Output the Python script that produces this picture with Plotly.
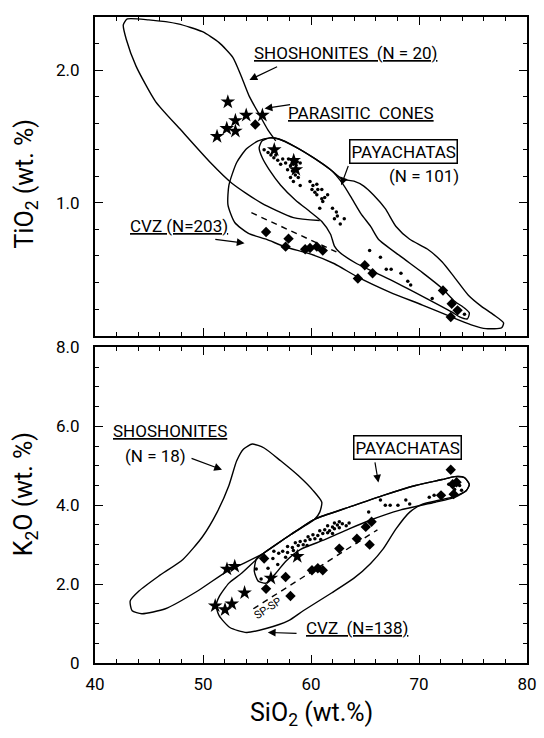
import plotly.graph_objects as go

# ================= TOP PANEL: TiO2 vs SiO2 =================
# parasitic cones (stars)
top_star_sio2 = [51.3, 52.2, 53.0, 52.3, 53.0, 54.0, 55.5, 56.6, 58.4, 58.6]
top_star_tio2 = [1.50, 1.56, 1.54, 1.76, 1.62, 1.66, 1.66, 1.40, 1.32, 1.25]

# diamonds
top_dia_sio2 = [54.84, 55.84, 57.92, 57.65, 59.46, 59.91, 60.54, 61.09, 64.98, 65.70, 64.34, 72.22, 73.03, 73.57, 72.94]
top_dia_tio2 = [1.59, 0.78, 0.73, 0.67, 0.65, 0.66, 0.67, 0.64, 0.53, 0.47, 0.43, 0.34, 0.24, 0.19, 0.14]

# Payachatas samples (small dots)
top_dot_sio2 = [55.66, 56.02, 56.29, 56.56, 56.92, 57.19, 56.74, 57.38, 57.65, 57.92, 58.28, 58.10, 58.37, 58.73,
                59.00, 57.83, 58.28, 58.55, 58.82, 58.10, 58.37, 59.00, 59.91, 60.18, 60.54, 60.09, 60.36, 60.63,
                61.00, 60.54, 61.00, 61.27, 61.54, 61.09, 60.81, 61.99, 62.35, 62.17, 62.44, 62.71, 63.08,
                65.43, 66.43, 66.97, 67.42, 68.33, 68.96, 69.23, 71.22, 74.21]
top_dot_tio2 = [1.40, 1.38, 1.36, 1.34, 1.32, 1.29, 1.36, 1.33, 1.30, 1.33, 1.32, 1.28, 1.29, 1.31,
                1.30, 1.25, 1.24, 1.21, 1.19, 1.19, 1.16, 1.13, 1.16, 1.13, 1.14, 1.10, 1.08, 1.10,
                1.10, 1.06, 1.03, 1.04, 1.06, 1.01, 0.96, 0.96, 0.93, 0.88, 0.90, 0.84, 0.88,
                0.64, 0.59, 0.50, 0.50, 0.47, 0.41, 0.38, 0.28, 0.16]

# field outlines
top_shosh_sio2 = [60.81, 58.37, 55.38, 52.67, 50.68, 47.96, 45.61, 43.80, 42.90, 42.62, 42.99, 44.98, 47.69,
                  49.95, 51.49, 52.76, 53.57, 54.30, 55.20, 56.02, 56.74]
top_shosh_tio2 = [0.867, 0.889, 1.000, 1.148, 1.304, 1.548, 1.763, 2.030, 2.230, 2.341, 2.385, 2.378, 2.348,
                  2.289, 2.207, 2.096, 1.948, 1.800, 1.667, 1.548, 1.467]

top_paya_sio2 = [55.20, 55.48, 56.20, 57.01, 58.55, 60.36, 61.90, 62.90, 63.80, 64.62, 65.52, 66.24, 68.24,
                 70.32, 72.13, 73.30, 74.21, 74.66, 74.48, 73.76, 73.03, 70.32, 67.33, 64.25, 62.62, 62.17,
                 61.81, 61.00, 59.91, 58.55, 57.19, 56.11, 55.48, 55.20]
top_paya_tio2 = [1.415, 1.467, 1.489, 1.481, 1.422, 1.333, 1.244, 1.148, 1.030, 0.919, 0.822, 0.726, 0.600,
                 0.474, 0.356, 0.259, 0.207, 0.170, 0.126, 0.141, 0.178, 0.296, 0.422, 0.541, 0.630, 0.674,
                 0.763, 0.859, 0.933, 1.022, 1.133, 1.252, 1.341, 1.415]

top_cvz_sio2 = [52.40, 53.12, 54.03, 55.11, 56.20, 57.01, 58.55, 60.36, 61.90, 62.90, 63.98, 64.89, 65.79,
                66.88, 67.87, 69.14, 70.77, 72.13, 73.30, 74.57, 75.75, 76.92, 77.83, 77.65, 76.20, 74.84,
                72.76, 70.32, 67.33, 64.25, 62.17, 59.91, 57.65, 55.84, 54.21, 52.94, 52.31, 52.40]
top_cvz_tio2 = [1.133, 1.304, 1.407, 1.467, 1.489, 1.481, 1.422, 1.333, 1.244, 1.178, 1.163, 1.126, 1.059,
                0.956, 0.822, 0.726, 0.652, 0.556, 0.437, 0.304, 0.222, 0.156, 0.096, 0.059, 0.052, 0.081,
                0.148, 0.230, 0.326, 0.444, 0.541, 0.615, 0.667, 0.726, 0.770, 0.852, 0.985, 1.133]

top_dash_sio2 = [54.48, 62.35]
top_dash_tio2 = [0.926, 0.630]

# ================= BOTTOM PANEL: K2O vs SiO2 =================
bot_star_sio2 = [51.13, 52.04, 52.67, 52.22, 52.94, 53.85, 56.29, 58.73]
bot_star_k2o = [1.45, 1.35, 1.50, 2.38, 2.45, 1.78, 2.15, 2.70]

bot_dia_sio2 = [55.66, 55.84, 57.65, 58.10, 60.09, 60.63, 61.09, 62.62, 64.25, 65.43, 65.07, 65.61,
                72.94, 72.04, 73.12, 73.48, 73.21]
bot_dia_k2o = [2.65, 1.88, 2.18, 1.70, 2.35, 2.40, 2.35, 2.90, 3.15, 3.00, 3.45, 3.58,
               4.90, 4.25, 4.53, 4.58, 4.28]

bot_dot_sio2 = [54.93, 55.38, 56.02, 56.92, 56.47, 57.01, 56.56, 57.38, 57.83, 57.83, 58.28, 58.82, 59.28,
                58.55, 59.00, 59.46, 59.91, 60.36, 59.73, 60.18, 60.63, 61.09, 61.54, 60.81, 61.27, 61.72,
                62.17, 62.62, 61.54, 61.99, 62.44, 62.90, 63.26, 62.17, 62.62, 63.53, 57.65, 58.37, 59.64,
                60.90, 61.99, 65.34, 66.43, 66.88, 67.33, 68.05, 68.78, 69.14, 70.95, 71.40, 72.76, 73.30,
                73.76, 73.94]
bot_dot_k2o = [2.38, 2.13, 2.40, 2.50, 2.65, 2.78, 2.83, 2.83, 2.80, 2.95, 2.93, 2.98, 3.00,
               3.05, 3.08, 3.10, 3.13, 3.15, 3.20, 3.25, 3.23, 3.28, 3.30, 3.35, 3.38, 3.35,
               3.40, 3.43, 3.48, 3.45, 3.50, 3.53, 3.48, 3.55, 3.58, 3.55, 2.68, 2.85, 2.98,
               3.13, 3.28, 3.83, 4.13, 4.00, 4.00, 4.00, 4.13, 4.03, 4.20, 4.25, 4.53, 4.40,
               4.50, 4.38]

bot_shosh_sio2 = [43.44, 43.26, 44.07, 45.88, 48.14, 49.95, 51.31, 52.40, 53.12, 53.76, 54.57, 55.66, 57.19,
                  58.82, 60.18, 61.00, 60.81, 60.36, 58.10, 55.57, 53.57, 52.22, 49.50, 46.52, 44.34, 43.44]
bot_shosh_k2o = [1.325, 1.575, 1.825, 2.200, 2.625, 3.200, 3.825, 4.500, 5.125, 5.425, 5.550, 5.450, 5.125,
                 4.750, 4.375, 4.075, 3.825, 3.650, 3.250, 2.775, 2.500, 2.325, 1.825, 1.375, 1.250, 1.325]

bot_cvz_sio2 = [55.57, 58.10, 60.36, 63.53, 66.70, 69.68, 72.13, 73.30, 74.21, 74.66, 74.39, 73.30, 71.86,
                70.32, 69.14, 67.87, 66.70, 65.52, 63.98, 61.90, 59.28, 57.92, 55.84, 54.03, 52.49, 51.49,
                51.22, 51.49, 52.40, 53.57, 55.57]
bot_cvz_k2o = [2.775, 3.250, 3.650, 3.950, 4.250, 4.500, 4.650, 4.725, 4.700, 4.525, 4.375, 4.225, 4.125,
               4.025, 3.825, 3.400, 2.900, 2.525, 2.150, 1.775, 1.325, 1.075, 0.875, 0.775, 0.900, 1.200,
               1.450, 1.675, 2.025, 2.275, 2.775]

bot_paya_sio2 = [55.57, 58.10, 60.36, 63.53, 66.70, 69.68, 72.13, 73.30, 74.21, 74.66, 74.39, 73.30, 71.49,
                 68.24, 65.52, 63.53, 61.27, 59.00, 57.65, 56.74, 55.84, 55.11, 54.75, 54.93, 55.57]
bot_paya_k2o = [2.775, 3.250, 3.650, 3.950, 4.250, 4.500, 4.650, 4.725, 4.700, 4.525, 4.375, 4.200, 4.075,
                3.875, 3.625, 3.400, 3.125, 2.875, 2.575, 2.275, 2.025, 2.075, 2.325, 2.625, 2.775]

bot_dash_sio2 = [54.66, 66.15]
bot_dash_k2o = [1.375, 3.375]

x_ticks = [40, 50, 60, 70, 80]
top_y_ticks = [1.0, 2.0]
top_y_labels = ["1.0", "2.0"]
bot_y_ticks = [0, 2, 4, 6, 8]
bot_y_labels = ["0", "2.0", "4.0", "6.0", "8.0"]

FONT = "Roboto, DejaVu Sans, sans-serif"
LW = 1.4

fig = go.Figure()


def outline(xs, ys, xa, ya, dash="solid"):
    fig.add_trace(go.Scatter(x=xs, y=ys, xaxis=xa, yaxis=ya, mode="lines",
                             line=dict(color="black", width=LW, dash=dash, shape="spline", smoothing=0.6),
                             hoverinfo="skip", showlegend=False))


def pts(xs, ys, xa, ya, symbol, size):
    fig.add_trace(go.Scatter(x=xs, y=ys, xaxis=xa, yaxis=ya, mode="markers",
                             marker=dict(symbol=symbol, size=size, color="black", line=dict(width=0)),
                             hoverinfo="skip", showlegend=False))


# top panel
outline(top_shosh_sio2, top_shosh_tio2, "x", "y")
outline(top_cvz_sio2, top_cvz_tio2, "x", "y")
outline(top_paya_sio2, top_paya_tio2, "x", "y")
fig.add_trace(go.Scatter(x=top_dash_sio2, y=top_dash_tio2, xaxis="x", yaxis="y", mode="lines",
                         line=dict(color="black", width=LW, dash="6px,5px"), hoverinfo="skip", showlegend=False))
pts(top_dot_sio2, top_dot_tio2, "x", "y", "circle", 3.5)
pts(top_dia_sio2, top_dia_tio2, "x", "y", "diamond", 8)
pts(top_star_sio2, top_star_tio2, "x", "y", "star", 11)

# bottom panel
outline(bot_shosh_sio2, bot_shosh_k2o, "x2", "y2")
outline(bot_cvz_sio2, bot_cvz_k2o, "x2", "y2")
outline(bot_paya_sio2, bot_paya_k2o, "x2", "y2")
fig.add_trace(go.Scatter(x=bot_dash_sio2, y=bot_dash_k2o, xaxis="x2", yaxis="y2", mode="lines",
                         line=dict(color="black", width=LW, dash="6px,5px"), hoverinfo="skip", showlegend=False))
pts(bot_dot_sio2, bot_dot_k2o, "x2", "y2", "circle", 3.5)
pts(bot_dia_sio2, bot_dia_k2o, "x2", "y2", "diamond", 8)
pts(bot_star_sio2, bot_star_k2o, "x2", "y2", "star", 11)

ann = []
LBL = 17


def label(text, x, y, xr, yr, size=LBL, box=False, angle=0):
    d = dict(text=text, x=x, y=y, xref=xr, yref=yr, showarrow=False,
             font=dict(family=FONT, size=size, color="black"), textangle=angle,
             xanchor="center", yanchor="middle")
    if box:
        d.update(bordercolor="black", borderwidth=1.5, borderpad=1, bgcolor="white")
    ann.append(d)


def arrow(x0, y0, x1, y1, xr, yr):
    ann.append(dict(text="", x=x1, y=y1, ax=x0, ay=y0, xref=xr, yref=yr, axref=xr, ayref=yr,
                    showarrow=True, arrowhead=2, arrowsize=1.3, arrowwidth=1.2, arrowcolor="black",
                    standoff=0, startstandoff=0))


# top labels
label("<u>SHOSHONITES  (N = 20)</u>", 63.2, 2.13, "x", "y")
arrow(57.0, 2.03, 54.3, 1.926, "x", "y")
label("<u>PARASITIC  CONES</u>", 64.6, 1.68, "x", "y")
arrow(58.2, 1.741, 55.7, 1.711, "x", "y")
label("PAYACHATAS", 68.6, 1.385, "x", "y", box=True)
label("(N = 101)", 70.5, 1.20, "x", "y")
arrow(63.5, 1.289, 62.8, 1.133, "x", "y")
label("<u>CVZ (N=203)</u>", 47.8, 0.822, "x", "y")
arrow(51.0, 0.726, 53.85, 0.696, "x", "y")

# bottom labels
label("<u>SHOSHONITES</u>", 46.97, 5.875, "x2", "y2")
label("(N = 18)", 45.6, 5.25, "x2", "y2")
arrow(48.8, 5.20, 51.76, 4.90, "x2", "y2")
label("PAYACHATAS", 68.9, 5.45, "x2", "y2", box=True)
arrow(65.9, 5.125, 66.24, 4.575, "x2", "y2")
label("<u>CVZ  (N=138)</u>", 64.3, 0.875, "x2", "y2")
arrow(58.8, 0.75, 56.0, 0.775, "x2", "y2")
label("SP-SP", 56.0, 1.38, "x2", "y2", size=11, angle=-33)

# axis titles
label("SiO<sub>2</sub> (wt.%)", 0.5, -0.079, "paper", "paper", size=25)
label("TiO<sub>2</sub> (wt. %)", -0.16, 0.742, "paper", "paper", size=25, angle=-90)
label("K<sub>2</sub>O (wt. %)", -0.16, 0.261, "paper", "paper", size=25, angle=-90)

axis_common = dict(showline=True, linecolor="black", linewidth=2, mirror="allticks", ticks="inside",
                   ticklen=8, tickwidth=1.4, tickcolor="black", showgrid=False, zeroline=False,
                   ticklabeloverflow="allow",
                   tickfont=dict(family=FONT, size=17, color="black"))

top_dom = [(663 - 331) / 655, 1.0]
bot_dom = [0.0, (663 - 343) / 655]

fig.update_layout(
    width=544, height=738, margin=dict(l=95, r=7, t=8, b=75),
    paper_bgcolor="white", plot_bgcolor="white", showlegend=False,
    annotations=ann,
    xaxis=dict(domain=[0, 1], anchor="y", range=[40, 80], tickvals=x_ticks, showticklabels=False,
               minor=dict(dtick=2, tick0=40, ticks="inside", ticklen=4, tickwidth=1.2, tickcolor="black",
                          showgrid=False), **axis_common),
    xaxis2=dict(domain=[0, 1], anchor="y2", range=[40, 80], tickvals=x_ticks, ticklabelstandoff=5,
                minor=dict(dtick=2, tick0=40, ticks="inside", ticklen=4, tickwidth=1.2, tickcolor="black",
                           showgrid=False), **axis_common),
    yaxis=dict(domain=top_dom, anchor="x", range=[0, 2.4], tickvals=top_y_ticks, ticktext=top_y_labels,
               ticklabelstandoff=10,
               minor=dict(dtick=0.2, tick0=0, ticks="inside", ticklen=4, tickwidth=1.2, tickcolor="black",
                          showgrid=False), **axis_common),
    yaxis2=dict(domain=bot_dom, anchor="x2", range=[0, 8], tickvals=bot_y_ticks, ticktext=bot_y_labels,
                ticklabelstandoff=10,
                minor=dict(dtick=0.5, tick0=0, ticks="inside", ticklen=4, tickwidth=1.2, tickcolor="black",
                           showgrid=False), **axis_common),
)

fig.write_html("out.html")
